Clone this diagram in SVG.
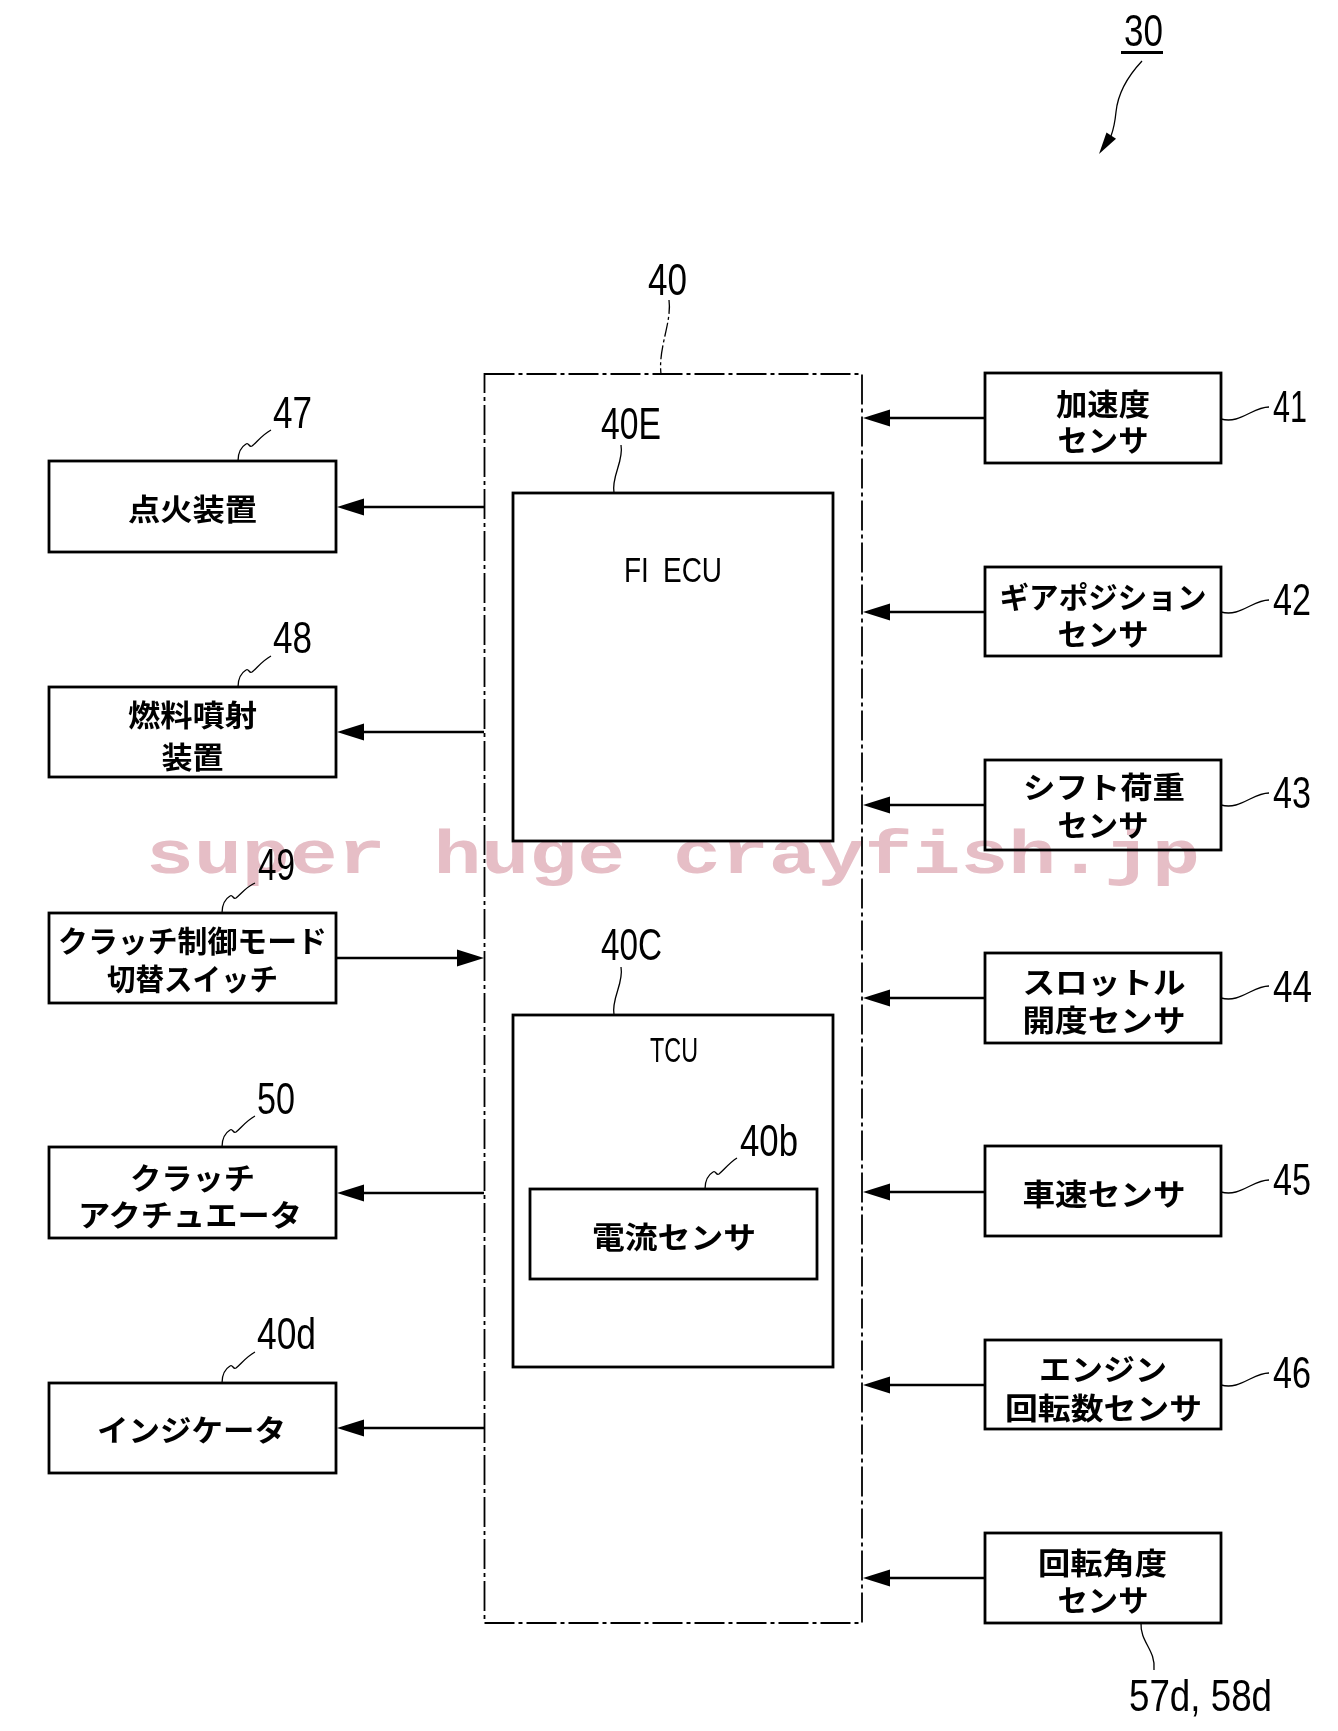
<svg xmlns="http://www.w3.org/2000/svg" width="1338" height="1731" viewBox="0 0 1338 1731">
<style>
.box{fill:none;stroke:#000;stroke-width:2.8}
.outer{fill:none;stroke:#000;stroke-width:1.8;stroke-dasharray:30 4 4 4}
.conn{fill:none;stroke:#000;stroke-width:2.6}
.lead{fill:none;stroke:#000;stroke-width:1.3}
.leadd{fill:none;stroke:#000;stroke-width:1.3;stroke-dasharray:14 3 3 3}
.jp{font-family:"Noto Sans CJK JP","Noto Sans CJK SC",sans-serif;font-size:30px;font-weight:700;text-anchor:middle;dominant-baseline:central;fill:#000}
.num{font-family:"Liberation Sans Narrow","Liberation Sans",sans-serif;font-size:45px;fill:#000}
.lat{font-family:"Liberation Sans Narrow","Liberation Sans",sans-serif;font-size:35px;fill:#000;text-anchor:middle;word-spacing:8px}
.wm{font-family:"Liberation Mono","DejaVu Sans Mono",monospace;font-size:62px;font-weight:bold;fill:#e6bec6;mix-blend-mode:multiply}
</style>
<defs>
<marker id="ah" markerUnits="userSpaceOnUse" markerWidth="30" markerHeight="20" viewBox="0 -10 30 20" refX="0" refY="0" orient="auto">
<path d="M0,-8.5 L27,0 L0,8.5 z" fill="#000"/>
</marker>
</defs>
<rect width="1338" height="1731" fill="#fff"/>

<g id="ref30">
<text class="num" x="1124" y="46" textLength="39" lengthAdjust="spacingAndGlyphs">30</text>
<line x1="1121" y1="52.5" x2="1163" y2="52.5" stroke="#000" stroke-width="3"/>
<path class="lead" d="M1142,61 C1128,76 1118,92 1116,112 C1115,122 1114,128 1111,136" stroke-width="1.8"/>
<path d="M1099,154 L1106.5,132.5 L1116,138.8 z" fill="#000"/>
</g>

<g id="n40">
<rect class="outer" x="484.5" y="374" width="377.5" height="1249"/>
<text class="num" x="648" y="295" textLength="39" lengthAdjust="spacingAndGlyphs">40</text>
<path class="leadd" d="M669,300 C672,322 658,348 661,374"/>
</g>

<g id="n40E">
<rect class="box" x="513" y="493" width="320" height="348"/>
<text class="num" x="601" y="439" textLength="60" lengthAdjust="spacingAndGlyphs">40E</text>
<path class="lead" d="M621,445 C624,462 611,476 614,493"/>
<text class="lat" x="673" y="582" textLength="98" lengthAdjust="spacingAndGlyphs">FI ECU</text>
</g>

<g id="n40C">
<rect class="box" x="513" y="1015" width="320" height="352"/>
<text class="num" x="601" y="960" textLength="61" lengthAdjust="spacingAndGlyphs">40C</text>
<path class="lead" d="M621,967 C624,984 611,998 614,1015"/>
<text class="lat" x="674" y="1062" textLength="48" lengthAdjust="spacingAndGlyphs">TCU</text>
</g>

<g id="n40b">
<rect class="box" x="530" y="1189" width="287" height="90"/>
<text class="num" x="740" y="1156" textLength="58" lengthAdjust="spacingAndGlyphs">40b</text>
<path class="lead" d="M705,1189 C705,1181 708,1175 713,1172 C716,1170 716,1176 719,1174 C724,1170 729,1163 737,1158"/>
<text class="jp" x="674" y="1235" textLength="164" lengthAdjust="spacingAndGlyphs">電流センサ</text>
</g>

<g id="n47">
<rect class="box" x="49" y="461" width="287" height="91"/>
<text class="jp" x="192.5" y="507" textLength="129" lengthAdjust="spacingAndGlyphs">点火装置</text>
<text class="num" x="273" y="428" textLength="39" lengthAdjust="spacingAndGlyphs">47</text>
<path class="lead" d="M238,461 C238,453 241,447 246,444 C249,442 249,448 252,446 C257,442 262,435 271,430"/>
</g>

<g id="n48">
<rect class="box" x="49" y="687" width="287" height="90"/>
<text class="jp" x="192.5" y="713" textLength="129" lengthAdjust="spacingAndGlyphs">燃料噴射</text>
<text class="jp" x="192.5" y="755" textLength="62" lengthAdjust="spacingAndGlyphs">装置</text>
<text class="num" x="273" y="653" textLength="39" lengthAdjust="spacingAndGlyphs">48</text>
<path class="lead" d="M238,687 C238,679 241,673 246,670 C249,668 249,674 252,672 C257,668 262,661 271,656"/>
</g>

<g id="n49">
<rect class="box" x="49" y="913" width="287" height="90"/>
<text class="jp" x="192.5" y="939" textLength="269" lengthAdjust="spacingAndGlyphs">クラッチ制御モード</text>
<text class="jp" x="192.5" y="977" textLength="171" lengthAdjust="spacingAndGlyphs">切替スイッチ</text>
<text class="num" x="258" y="880" textLength="37" lengthAdjust="spacingAndGlyphs">49</text>
<path class="lead" d="M222,913 C222,905 225,899 230,896 C233,894 233,900 236,898 C241,894 246,887 255,883"/>
</g>

<g id="n50">
<rect class="box" x="49" y="1147" width="287" height="91"/>
<text class="jp" x="192.5" y="1176" textLength="125" lengthAdjust="spacingAndGlyphs">クラッチ</text>
<text class="jp" x="190" y="1213" textLength="224" lengthAdjust="spacingAndGlyphs">アクチュエータ</text>
<text class="num" x="257" y="1114" textLength="38" lengthAdjust="spacingAndGlyphs">50</text>
<path class="lead" d="M222,1147 C222,1139 225,1133 230,1130 C233,1128 233,1134 236,1132 C241,1128 246,1121 255,1116"/>
</g>

<g id="n40d">
<rect class="box" x="49" y="1383" width="287" height="90"/>
<text class="jp" x="191.5" y="1428" textLength="189" lengthAdjust="spacingAndGlyphs">インジケータ</text>
<text class="num" x="257" y="1349" textLength="59" lengthAdjust="spacingAndGlyphs">40d</text>
<path class="lead" d="M222,1383 C222,1375 225,1369 230,1366 C233,1364 233,1370 236,1368 C241,1364 246,1357 255,1352"/>
</g>

<g id="n41">
<rect class="box" x="985" y="373" width="236" height="90"/>
<text class="jp" x="1103" y="402" textLength="94" lengthAdjust="spacingAndGlyphs">加速度</text>
<text class="jp" x="1103" y="438" textLength="91" lengthAdjust="spacingAndGlyphs">センサ</text>
<text class="num" x="1273" y="422" textLength="34" lengthAdjust="spacingAndGlyphs">41</text>
<path class="lead" d="M1221,419 C1232,422 1240,418 1250,413 C1256,410 1262,407 1269,407"/>
</g>

<g id="n42">
<rect class="box" x="985" y="567" width="236" height="89"/>
<text class="jp" x="1103" y="595" textLength="207" lengthAdjust="spacingAndGlyphs">ギアポジション</text>
<text class="jp" x="1103" y="632" textLength="91" lengthAdjust="spacingAndGlyphs">センサ</text>
<text class="num" x="1273" y="615" textLength="38" lengthAdjust="spacingAndGlyphs">42</text>
<path class="lead" d="M1221,612 C1232,615 1240,611 1250,606 C1256,603 1262,600 1269,600"/>
</g>

<g id="n43">
<rect class="box" x="985" y="760" width="236" height="90"/>
<text class="jp" x="1104" y="785" textLength="162" lengthAdjust="spacingAndGlyphs">シフト荷重</text>
<text class="jp" x="1103" y="823" textLength="91" lengthAdjust="spacingAndGlyphs">センサ</text>
<text class="num" x="1273" y="808" textLength="38" lengthAdjust="spacingAndGlyphs">43</text>
<path class="lead" d="M1221,805 C1232,808 1240,804 1250,799 C1256,796 1262,793 1269,793"/>
</g>

<g id="n44">
<rect class="box" x="985" y="953" width="236" height="90"/>
<text class="jp" x="1104" y="980" textLength="163" lengthAdjust="spacingAndGlyphs">スロットル</text>
<text class="jp" x="1104" y="1018" textLength="163" lengthAdjust="spacingAndGlyphs">開度センサ</text>
<text class="num" x="1273" y="1002" textLength="39" lengthAdjust="spacingAndGlyphs">44</text>
<path class="lead" d="M1221,998 C1232,1001 1240,997 1250,992 C1256,989 1262,986 1269,986"/>
</g>

<g id="n45">
<rect class="box" x="985" y="1146" width="236" height="90"/>
<text class="jp" x="1104" y="1192" textLength="163" lengthAdjust="spacingAndGlyphs">車速センサ</text>
<text class="num" x="1273" y="1195" textLength="38" lengthAdjust="spacingAndGlyphs">45</text>
<path class="lead" d="M1221,1192 C1232,1195 1240,1191 1250,1186 C1256,1183 1262,1180 1269,1180"/>
</g>

<g id="n46">
<rect class="box" x="985" y="1340" width="236" height="89"/>
<text class="jp" x="1103" y="1367" textLength="128" lengthAdjust="spacingAndGlyphs">エンジン</text>
<text class="jp" x="1103.5" y="1406" textLength="197" lengthAdjust="spacingAndGlyphs">回転数センサ</text>
<text class="num" x="1273" y="1388" textLength="38" lengthAdjust="spacingAndGlyphs">46</text>
<path class="lead" d="M1221,1385 C1232,1388 1240,1384 1250,1379 C1256,1376 1262,1373 1269,1373"/>
</g>

<g id="n57d58d">
<rect class="box" x="985" y="1533" width="236" height="90"/>
<text class="jp" x="1102.5" y="1561" textLength="129" lengthAdjust="spacingAndGlyphs">回転角度</text>
<text class="jp" x="1103" y="1598" textLength="91" lengthAdjust="spacingAndGlyphs">センサ</text>
<text class="num" x="1129" y="1711" textLength="143" lengthAdjust="spacingAndGlyphs">57d, 58d</text>
<path class="lead" d="M1141,1623 C1140,1642 1156,1650 1154,1670"/>
</g>

<g id="connectors">
<line class="conn" x1="484" y1="507" x2="364" y2="507" marker-end="url(#ah)"/>
<line class="conn" x1="484" y1="732" x2="364" y2="732" marker-end="url(#ah)"/>
<line class="conn" x1="336" y1="958" x2="457" y2="958" marker-end="url(#ah)"/>
<line class="conn" x1="484" y1="1193" x2="364" y2="1193" marker-end="url(#ah)"/>
<line class="conn" x1="484" y1="1428" x2="364" y2="1428" marker-end="url(#ah)"/>
<line class="conn" x1="985" y1="418" x2="890" y2="418" marker-end="url(#ah)"/>
<line class="conn" x1="985" y1="612" x2="890" y2="612" marker-end="url(#ah)"/>
<line class="conn" x1="985" y1="805" x2="890" y2="805" marker-end="url(#ah)"/>
<line class="conn" x1="985" y1="998" x2="890" y2="998" marker-end="url(#ah)"/>
<line class="conn" x1="985" y1="1192" x2="890" y2="1192" marker-end="url(#ah)"/>
<line class="conn" x1="985" y1="1385" x2="890" y2="1385" marker-end="url(#ah)"/>
<line class="conn" x1="985" y1="1578" x2="890" y2="1578" marker-end="url(#ah)"/>
</g>

<text class="wm" x="146" y="873" textLength="1054" lengthAdjust="spacingAndGlyphs">super huge crayfish.jp</text>
</svg>
